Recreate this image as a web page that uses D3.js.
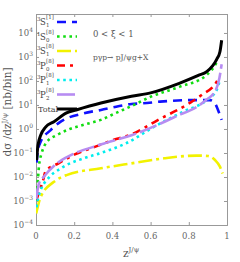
<!DOCTYPE html>
<html>
<head>
<meta charset="utf-8">
<script src="https://cdn.jsdelivr.net/npm/d3@7"></script>
<style>
  html, body { margin: 0; padding: 0; background: #fff; }
  svg text { font-family: "DejaVu Serif", "Liberation Serif", serif; }
</style>
</head>
<body>
<svg id="chart" width="240" height="262"></svg>
<script>
// ===================================
// Data ([z, dσ/dz])
// ===================================
const total = [[0.003, 0.05], [0.01, 0.2], [0.025, 0.56], [0.05, 1.2], [0.094, 2.0], [0.16, 4.7],
  [0.21, 6.2], [0.34, 12], [0.5, 23], [0.6, 32], [0.75, 80], [0.85, 170], [0.894, 245],
  [0.946, 800], [0.963, 1650], [0.972, 5000]];
const s1S0 = [[0.001, 0.001], [0.008, 0.005], [0.016, 0.03], [0.03, 0.1], [0.059, 0.3], [0.11, 0.56],
  [0.164, 0.91], [0.25, 1.5], [0.34, 2.4], [0.42, 4.7], [0.5, 9], [0.6, 22], [0.754, 58],
  [0.894, 178], [0.946, 600], [0.952, 750]];
const s3S1c1 = [[0.003, 0.04], [0.01, 0.12], [0.025, 0.3], [0.077, 0.9], [0.12, 1.8], [0.25, 4.5],
  [0.34, 6.2], [0.42, 8.5], [0.5, 11], [0.56, 11.7], [0.65, 13.8], [0.82, 16], [0.91, 16],
  [0.93, 13.8], [0.963, 3.8], [0.972, 2.4]];
const s3S1c8 = [[0.001, 0.0003], [0.025, 0.0015], [0.094, 0.0063], [0.16, 0.012], [0.34, 0.023],
  [0.5, 0.037], [0.67, 0.06], [0.84, 0.078], [0.9, 0.075], [0.937, 0.051], [0.963, 0.027], [0.977, 0.014]];
const s3P0 = [[0.002, 0.0011], [0.017, 0.0025], [0.035, 0.0063], [0.05, 0.017], [0.12, 0.038],
  [0.2, 0.085], [0.3, 0.17], [0.42, 0.38], [0.5, 0.6], [0.64, 2.4], [0.8, 11.5], [0.867, 26],
  [0.946, 93], [0.955, 125]];
const s3P1 = [[0.003, 0.00055], [0.007, 0.0009], [0.025, 0.0029], [0.06, 0.008], [0.13, 0.023],
  [0.25, 0.06], [0.34, 0.1], [0.47, 0.25], [0.63, 1.4], [0.77, 5.2], [0.894, 16], [0.946, 42], [0.963, 110]];
const s3P2 = [[0.001, 0.0012], [0.016, 0.0055], [0.04, 0.01], [0.1, 0.032], [0.18, 0.08], [0.3, 0.18],
  [0.37, 0.27], [0.5, 0.55], [0.72, 3.0], [0.89, 16], [0.94, 40], [0.96, 130], [0.972, 500]];

const xTicks = [0, 0.2, 0.4, 0.6, 0.8, 1];
const xTickLabels = ['0', '0.2', '0.4', '0.6', '0.8', '1'];
const yExponents = [-4, -3, -2, -1, 0, 1, 2, 3, 4];

// legend: [pre, letter, sub, sup]
const series = [
  { label: ['3', 'S', '1', '[1]'], data: s3S1c1, color: '#1010ff', dash: '9,6', width: 2.6 },
  { label: ['1', 'S', '0', '[8]'], data: s1S0, color: '#11dd11', dash: '2.6,3.6', width: 2.6 },
  { label: ['3', 'S', '1', '[8]'], data: s3S1c8, color: '#f2f200', dash: '14,4,3,4', width: 2.6 },
  { label: ['3', 'P', '0', '[8]'], data: s3P0, color: '#ff0000', dash: '8,5,3,5', width: 2.6 },
  { label: ['3', 'P', '1', '[8]'], data: s3P1, color: '#00eeee', dash: '2.6,3.6', width: 2.6 },
  { label: ['3', 'P', '2', '[8]'], data: s3P2, color: '#b78cf2', dash: '18,4', width: 2.6 },
  { label: 'Total', data: total, color: '#000', dash: null, width: 3 },
];

// ===================================
// Layout
// ===================================
const svg = d3.select('#chart');
const plot = { left: 36, right: 227, top: 14, bottom: 225 };

const x = d3.scaleLinear().domain([0, 1]).range([plot.left, plot.right]);
const y = d3.scaleLog().domain([1e-4, Math.pow(10, 4.79)]).range([plot.bottom, plot.top]);

const axisColor = '#999';
const textColor = '#666';

svg.append('defs').append('clipPath').attr('id', 'clip')
  .append('rect')
  .attr('x', plot.left).attr('y', plot.top)
  .attr('width', plot.right - plot.left).attr('height', plot.bottom - plot.top);

// axes (ticks pointing inward on all four sides)
const yTickVals = yExponents.map((e) => Math.pow(10, e));
svg.append('g').attr('transform', `translate(0,${plot.bottom})`)
  .call(d3.axisBottom(x).tickValues(xTicks).tickSize(-3).tickFormat(''));
svg.append('g').attr('transform', `translate(0,${plot.top})`)
  .call(d3.axisTop(x).tickValues(xTicks).tickSize(-3).tickFormat(''));
svg.append('g').attr('transform', `translate(${plot.left},0)`)
  .call(d3.axisLeft(y).tickValues(yTickVals).tickSize(-3).tickFormat(''));
svg.append('g').attr('transform', `translate(${plot.right},0)`)
  .call(d3.axisRight(y).tickValues(yTickVals).tickSize(-3).tickFormat(''));
svg.selectAll('.domain, .tick line').attr('stroke', axisColor);

// x tick labels
svg.append('g').selectAll('text').data(xTicks).join('text')
  .attr('x', (d) => x(d)).attr('y', plot.bottom + 14)
  .attr('text-anchor', 'middle').attr('font-size', 8.5).attr('fill', textColor)
  .text((d, i) => xTickLabels[i]);

// y tick labels 10^n
const yl = svg.append('g').selectAll('text').data(yExponents).join('text')
  .attr('x', 33).attr('y', (d) => y(Math.pow(10, d)) + 3)
  .attr('text-anchor', 'end').attr('font-size', 8.5).attr('fill', textColor);
yl.append('tspan').text('10');
yl.append('tspan').attr('font-size', 6).attr('dy', -4).text((d) => (d < 0 ? '\u2212' + -d : d));

// curves
const line = d3.line()
  .x((d) => x(d[0]))
  .y((d) => y(d[1]))
  .curve(d3.curveMonotoneX);

const curves = svg.append('g').attr('clip-path', 'url(#clip)');
series.filter((s) => s.label !== 'Total').concat(series.filter((s) => s.label === 'Total'))
  .forEach((s) => {
    curves.append('path')
      .attr('d', line(s.data))
      .attr('fill', 'none')
      .attr('stroke', s.color)
      .attr('stroke-width', s.width)
      .attr('stroke-dasharray', s.dash);
  });

// legend
const legend = svg.append('g').attr('fill', '#444');
series.forEach((s, i) => {
  const ly = 22 + i * 14.5;
  legend.append('line')
    .attr('x1', 57).attr('x2', 77).attr('y1', ly).attr('y2', ly)
    .attr('stroke', s.color).attr('stroke-width', s.width)
    .attr('stroke-dasharray', s.dash);
  if (typeof s.label === 'string') {
    legend.append('text').attr('x', 38).attr('y', ly + 3)
      .attr('font-size', 8).text(s.label);
    return;
  }
  const [pre, letter, sub, sup] = s.label;
  legend.append('text').attr('x', 37).attr('y', ly - 1).attr('font-size', 5.5).text(pre);
  legend.append('text').attr('x', 40).attr('y', ly + 3).attr('font-size', 8.5).text(letter);
  legend.append('text').attr('x', 46).attr('y', ly + 5).attr('font-size', 5.5).text(sub);
  legend.append('text').attr('x', 46).attr('y', ly - 3).attr('font-size', 5.5).text(sup);
});

// annotations
svg.append('text').attr('x', 93).attr('y', 37).attr('font-size', 8.5).attr('fill', '#555')
  .text('0 < \u03be < 1');
svg.append('text').attr('x', 93).attr('y', 60).attr('font-size', 7.5).attr('fill', '#555')
  .text('p\u03b3p\u2192 pJ/\u03c8g+X');

// axis titles
const yt = svg.append('text')
  .attr('transform', 'translate(11,112) rotate(-90)')
  .attr('text-anchor', 'middle').attr('font-size', 10.5).attr('fill', '#555');
yt.append('tspan').text('d\u03c3 /dz');
yt.append('tspan').attr('font-size', 7).attr('dy', -4).text('J/\u03c8');
yt.append('tspan').attr('dy', 4).text(' [nb/bin]');

const xt = svg.append('text').attr('x', 123).attr('y', 257)
  .attr('font-size', 10.5).attr('fill', '#555');
xt.append('tspan').text('z');
xt.append('tspan').attr('font-size', 7).attr('dy', -5).text('J/\u03c8');
</script>
</body>
</html>
